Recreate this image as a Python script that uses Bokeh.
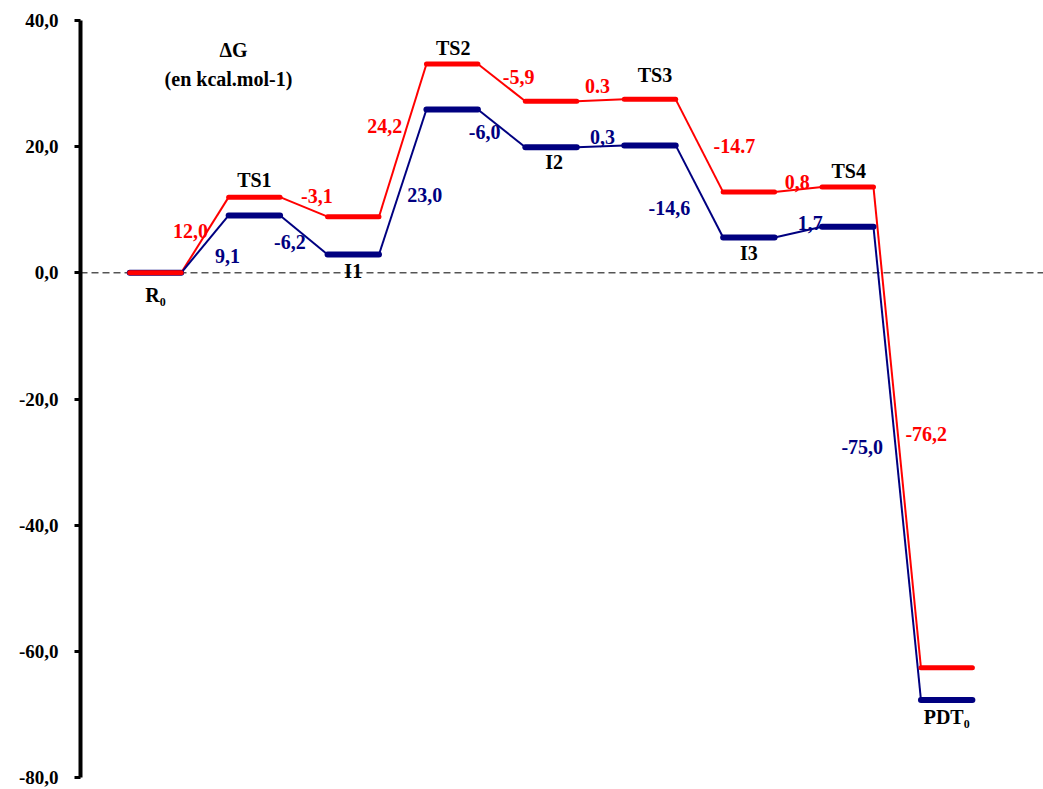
from bokeh.plotting import figure
from bokeh.models import Range1d, FixedTicker, Span
from bokeh.core.properties import value
from bokeh.embed import file_html
from bokeh.resources import INLINE

# ---------------- data ----------------
states = ["R₀", "TS1", "I1", "TS2", "I2", "TS3", "I3", "TS4", "PDT₀"]
blue_energy = [0.0, 9.1, 2.9, 25.9, 19.9, 20.2, 5.6, 7.3, -67.7]
red_energy = [0.0, 12.0, 8.9, 33.1, 27.2, 27.5, 12.8, 13.6, -62.6]
blue_steps = ["9,1", "-6,2", "23,0", "-6,0", "0,3", "-14,6", "1,7", "-75,0"]
red_steps = ["12,0", "-3,1", "24,2", "-5,9", "0.3", "-14.7", "0,8", "-76,2"]
y_ticks = [-80, -60, -40, -20, 0, 20, 40]
y_tick_labels = ["-80,0", "-60,0", "-40,0", "-20,0", "0,0", "20,0", "40,0"]
title_lines = ["ΔG", "(en kcal.mol-1)"]

# ---------------- styling ----------------
BLUE = "#000080"
RED = "#FF0000"
FONT_NAME = "'Liberation Serif'"
FONT = value(FONT_NAME)
FS = "20px"

W, H = 1043, 789
ML, MR, MT, MB = 80, 0, 20, 12
X0 = -0.758
Y0, Y1 = -80, 40
fw, fh = W - ML - MR, H - MT - MB
pxx = 98.9
X1 = X0 + fw / pxx
pxy = fh / (Y1 - Y0)
HW = 0.26  # half width of level bars (x units)


def dx(px):
    return px / pxx


def dy(py):  # screen px, positive = down
    return -py / pxy


def sx(px):  # screen px -> data x
    return X0 + (px - ML) / pxx


def sy(py):
    return Y1 - (py - MT) / pxy


p = figure(width=W, height=H, x_range=Range1d(X0, X1), y_range=Range1d(Y0, Y1),
           output_backend="svg", toolbar_location=None, x_axis_location=None,
           min_border_left=ML, min_border_right=MR, min_border_top=MT, min_border_bottom=MB)
p.grid.visible = False
p.outline_line_color = None
p.background_fill_color = "white"
p.border_fill_color = "white"

ax = p.yaxis[0]
ax.ticker = FixedTicker(ticks=y_ticks)
ax.major_label_overrides = {t: l for t, l in zip(y_ticks, y_tick_labels)}
ax.axis_line_width = 4
ax.axis_line_color = "black"
ax.major_tick_line_width = 3
ax.major_tick_line_color = "black"
ax.major_tick_out = 6
ax.major_tick_in = 0
ax.minor_tick_out = 0
ax.minor_tick_in = 0
ax.major_label_text_font = FONT_NAME
ax.major_label_text_font_style = "bold"
ax.major_label_text_font_size = "19px"
ax.major_label_text_color = "black"
ax.major_label_standoff = 16

zero = Span(location=0, dimension="width", line_color="black", line_width=1, line_dash="7 4")
zero.level = "underlay"
p.add_layout(zero)

n = len(states)
idx = list(range(n))

for energy, color in ((red_energy, RED), (blue_energy, BLUE)):
    p.segment(x0=[i + HW for i in idx[:-1]], y0=energy[:-1],
              x1=[i + 1 - HW for i in idx[:-1]], y1=energy[1:],
              line_color=color, line_width=2)

p.segment(x0=[i - HW for i in idx], x1=[i + HW for i in idx], y0=blue_energy, y1=blue_energy,
          line_color=BLUE, line_width=6, line_cap="round")
p.segment(x0=[i - HW for i in idx], x1=[i + HW for i in idx], y0=red_energy, y1=red_energy,
          line_color=RED, line_width=5, line_cap="round")

# step labels (offsets in screen px from connector midpoint)
red_off = [(-14.5, -4), (13, -11), (-18, -14), (17, -6), (-3, -14), (35, 0), (-1, -8), (29, 7)]
blue_off = [(22.5, 12), (-14, 7), (22, 13), (-17, 4), (2, -9), (-30, 17), (12, -9), (-35, -16)]

for energy, steps, offs, color in ((red_energy, red_steps, red_off, RED),
                                   (blue_energy, blue_steps, blue_off, BLUE)):
    xs = [i + 0.5 + dx(o[0]) for i, o in zip(idx[:-1], offs)]
    ys = [(energy[i] + energy[i + 1]) / 2 + dy(o[1]) for i, o in zip(idx[:-1], offs)]
    p.text(x=xs, y=ys, text=steps, text_color=color, text_font=FONT,
           text_font_style="bold", text_font_size=FS, text_align="center",
           text_baseline="middle")

# state names
name_off = [(0, 22), (0, -17), (0, 16), (1, -16), (3, 15), (5, -24), (0, 15), (1, -16), (0, 17)]
nx, ny = [], []
for i, s in enumerate(states):
    anchor = red_energy[i] if s.startswith("TS") else blue_energy[i]
    nx.append(i + dx(name_off[i][0]))
    ny.append(anchor + dy(name_off[i][1]))
p.text(x=nx, y=ny, text=states, text_color="black", text_font=FONT,
       text_font_style="bold", text_font_size=FS, text_align="center", text_baseline="middle")

# title
p.text(x=[sx(233), sx(228)], y=[sy(49), sy(78)], text=title_lines, text_color="black",
       text_font=FONT, text_font_style="bold", text_font_size=FS, text_align="center",
       text_baseline="middle")

open("out.html", "w").write(file_html(p, INLINE))
